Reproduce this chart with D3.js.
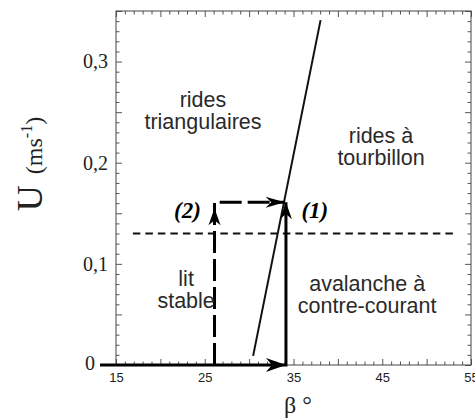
<!DOCTYPE html>
<html><head><meta charset="utf-8">
<script src="https://cdn.jsdelivr.net/npm/d3@7"></script>
<style>
html,body{margin:0;padding:0;background:#fff;}
svg{display:block;}
</style></head>
<body>
<svg id="chart" width="475" height="419"></svg>
<script>
// ---- data ----
const betaDomain = [15, 55];
const uDomain = [0, 0.35];
const xTickLabels = [15, 25, 35, 45, 55];
const yTickLabels = [0, 0.1, 0.2, 0.3];
const boundaryLine = [[30.45, 0.009], [38.05, 0.341]];
const thresholdLine = [[16.9, 0.13], [53.2, 0.13]];
const path1 = [[13.2, 0], [34.15, 0], [34.15, 0.161]];      // solid path (1)
const path2 = [[26.1, 0], [26.1, 0.161], [34.0, 0.161]];     // dashed path (2)
const path1Heads = [[34.15, 0, 0], [34.15, 0.161, -90]];
const path2Heads = [[26.1, 0.155, -90], [34.0, 0.161, 0]];
const regionLabels = [
  {lines: ["rides", "triangulaires"], beta: 24.8, u: 0.255},
  {lines: ["rides à", "tourbillon"], beta: 44.86, u: 0.2196},
  {lines: ["lit", "stable"], beta: 22.9, u: 0.078},
  {lines: ["avalanche à", "contre-courant"], beta: 43.3, u: 0.073}
];
const pathLabels = [
  {text: "(2)", beta: 23.06, u: 0.145},
  {text: "(1)", beta: 37.4, u: 0.145}
];

// ---- drawing ----
const svg = d3.select("#chart");
const x = d3.scaleLinear().domain(betaDomain).range([116, 471]);
const y = d3.scaleLinear().domain(uDomain).range([365, 11]);
const ink = "#222";

const fmtU = d => d === 0 ? "0" : d3.format(".1f")(d).replace(".", ",");
const isLabelX = v => xTickLabels.some(t => Math.abs(t - v) < 1e-6);
const isLabelY = v => yTickLabels.some(t => Math.abs(t - v) < 1e-6);

const majorX = d3.range(15, 55.001, 5);
const minorX = d3.range(15, 55.001, 1).filter(v => !majorX.includes(v));
const majorY = d3.range(0, 0.3501, 0.05).map(v => +v.toFixed(2));
const minorY = d3.range(0, 0.3501, 0.01).map(v => +v.toFixed(2)).filter(v => !majorY.includes(v));

function styleAxis(g) {
  g.select(".domain").remove();
  g.selectAll(".tick line").attr("stroke", "#444").attr("stroke-width", 0.9);
}

// bottom axis
svg.append("g").attr("transform", "translate(0,365)")
  .call(d3.axisBottom(x).tickValues(minorX).tickSize(-3.5).tickFormat(""))
  .call(styleAxis);
svg.append("g").attr("transform", "translate(0,365)")
  .call(d3.axisBottom(x).tickValues(majorX).tickSize(-6).tickPadding(8)
    .tickFormat(v => isLabelX(v) ? String(v) : ""))
  .call(styleAxis)
  .call(g => g.selectAll("text").attr("font-family", "Liberation Sans, Arial, sans-serif")
    .attr("font-size", 13).attr("fill", ink));
// top axis
svg.append("g").attr("transform", "translate(0,11)")
  .call(d3.axisTop(x).tickValues(minorX).tickSize(-3.5).tickFormat(""))
  .call(styleAxis);
svg.append("g").attr("transform", "translate(0,11)")
  .call(d3.axisTop(x).tickValues(majorX).tickSize(-6).tickFormat(""))
  .call(styleAxis);
// left axis
svg.append("g").attr("transform", "translate(116,0)")
  .call(d3.axisLeft(y).tickValues(minorY).tickSize(-3.5).tickFormat(""))
  .call(styleAxis);
svg.append("g").attr("transform", "translate(116,0)")
  .call(d3.axisLeft(y).tickValues(majorY).tickSize(-6).tickPadding(8)
    .tickFormat(v => isLabelY(v) ? fmtU(v) : ""))
  .call(styleAxis)
  .call(g => g.selectAll("text").attr("font-family", "Liberation Serif, Times New Roman, serif")
    .attr("font-size", 20).attr("fill", ink))
  .call(g => g.selectAll(".tick").filter(d => d === 0).select("text")
    .attr("dx", -13).attr("dy", "0.2em"));
// right axis
svg.append("g").attr("transform", "translate(471,0)")
  .call(d3.axisRight(y).tickValues(minorY).tickSize(-3.5).tickFormat(""))
  .call(styleAxis);
svg.append("g").attr("transform", "translate(471,0)")
  .call(d3.axisRight(y).tickValues(majorY).tickSize(-6).tickFormat(""))
  .call(styleAxis);

// frame
svg.append("rect").attr("x", x(betaDomain[0])).attr("y", y(uDomain[1]))
  .attr("width", x(betaDomain[1]) - x(betaDomain[0]))
  .attr("height", y(uDomain[0]) - y(uDomain[1]))
  .attr("fill", "none").attr("stroke", "#444").attr("stroke-width", 1);

const line = d3.line().x(d => x(d[0])).y(d => y(d[1]));

// threshold dashed line
svg.append("path").attr("d", line(thresholdLine)).attr("fill", "none")
  .attr("stroke", "#111").attr("stroke-width", 2).attr("stroke-dasharray", "7.5,5");

// boundary line
svg.append("path").attr("d", line(boundaryLine)).attr("fill", "none")
  .attr("stroke", "#111").attr("stroke-width", 2);

// arrow paths
svg.append("path").attr("d", line(path2)).attr("fill", "none")
  .attr("stroke", "#000").attr("stroke-width", 3).attr("stroke-dasharray", "22,6");
svg.append("path").attr("d", line(path1)).attr("fill", "none")
  .attr("stroke", "#000").attr("stroke-width", 3);

function arrowHead(px, py, angle, len, wid) {
  const notch = len * 0.3;
  const p = `M0,0 L${-len},${-wid / 2} L${-len + notch},0 L${-len},${wid / 2} Z`;
  svg.append("path").attr("d", p)
    .attr("transform", `translate(${px},${py}) rotate(${angle})`)
    .attr("fill", "#000");
}
path1Heads.forEach((h, i) => arrowHead(x(h[0]), y(h[1]), h[2], i === 0 ? 20 : 17, i === 0 ? 14 : 12));
path2Heads.forEach((h, i) => arrowHead(x(h[0]), y(h[1]), h[2], i === 0 ? 17 : 19, i === 0 ? 12 : 11));

// region labels
regionLabels.forEach(r => {
  const t = svg.append("text").attr("text-anchor", "middle")
    .attr("font-family", "Liberation Sans, Arial, sans-serif")
    .attr("font-size", 21.5).attr("fill", "#2a2a2a");
  r.lines.forEach((s, i) => {
    t.append("tspan").attr("x", x(r.beta)).attr("y", y(r.u) + i * 22).text(s);
  });
});

// path labels
pathLabels.forEach(p => {
  svg.append("text").attr("x", x(p.beta)).attr("y", y(p.u))
    .attr("text-anchor", "middle")
    .attr("font-family", "Liberation Serif, Times New Roman, serif")
    .attr("font-size", 23).attr("font-weight", "bold").attr("font-style", "italic")
    .attr("fill", "#000").text(p.text);
});

// axis titles
svg.append("text").attr("x", 298).attr("y", 413).attr("text-anchor", "middle")
  .attr("font-family", "Liberation Serif, Times New Roman, serif")
  .attr("font-size", 24).attr("fill", ink).text("β °");

const yt = svg.append("text").attr("transform", "translate(42,164) rotate(-90)")
  .attr("text-anchor", "middle")
  .attr("font-family", "Liberation Serif, Times New Roman, serif")
  .attr("fill", ink);
yt.append("tspan").attr("font-size", 36).text("U");
yt.append("tspan").attr("font-size", 24).attr("dx", 11).text("(ms");
yt.append("tspan").attr("font-size", 16).attr("dy", -10).text("-1");
yt.append("tspan").attr("font-size", 24).attr("dy", 10).text(")");
</script>
</body></html>
